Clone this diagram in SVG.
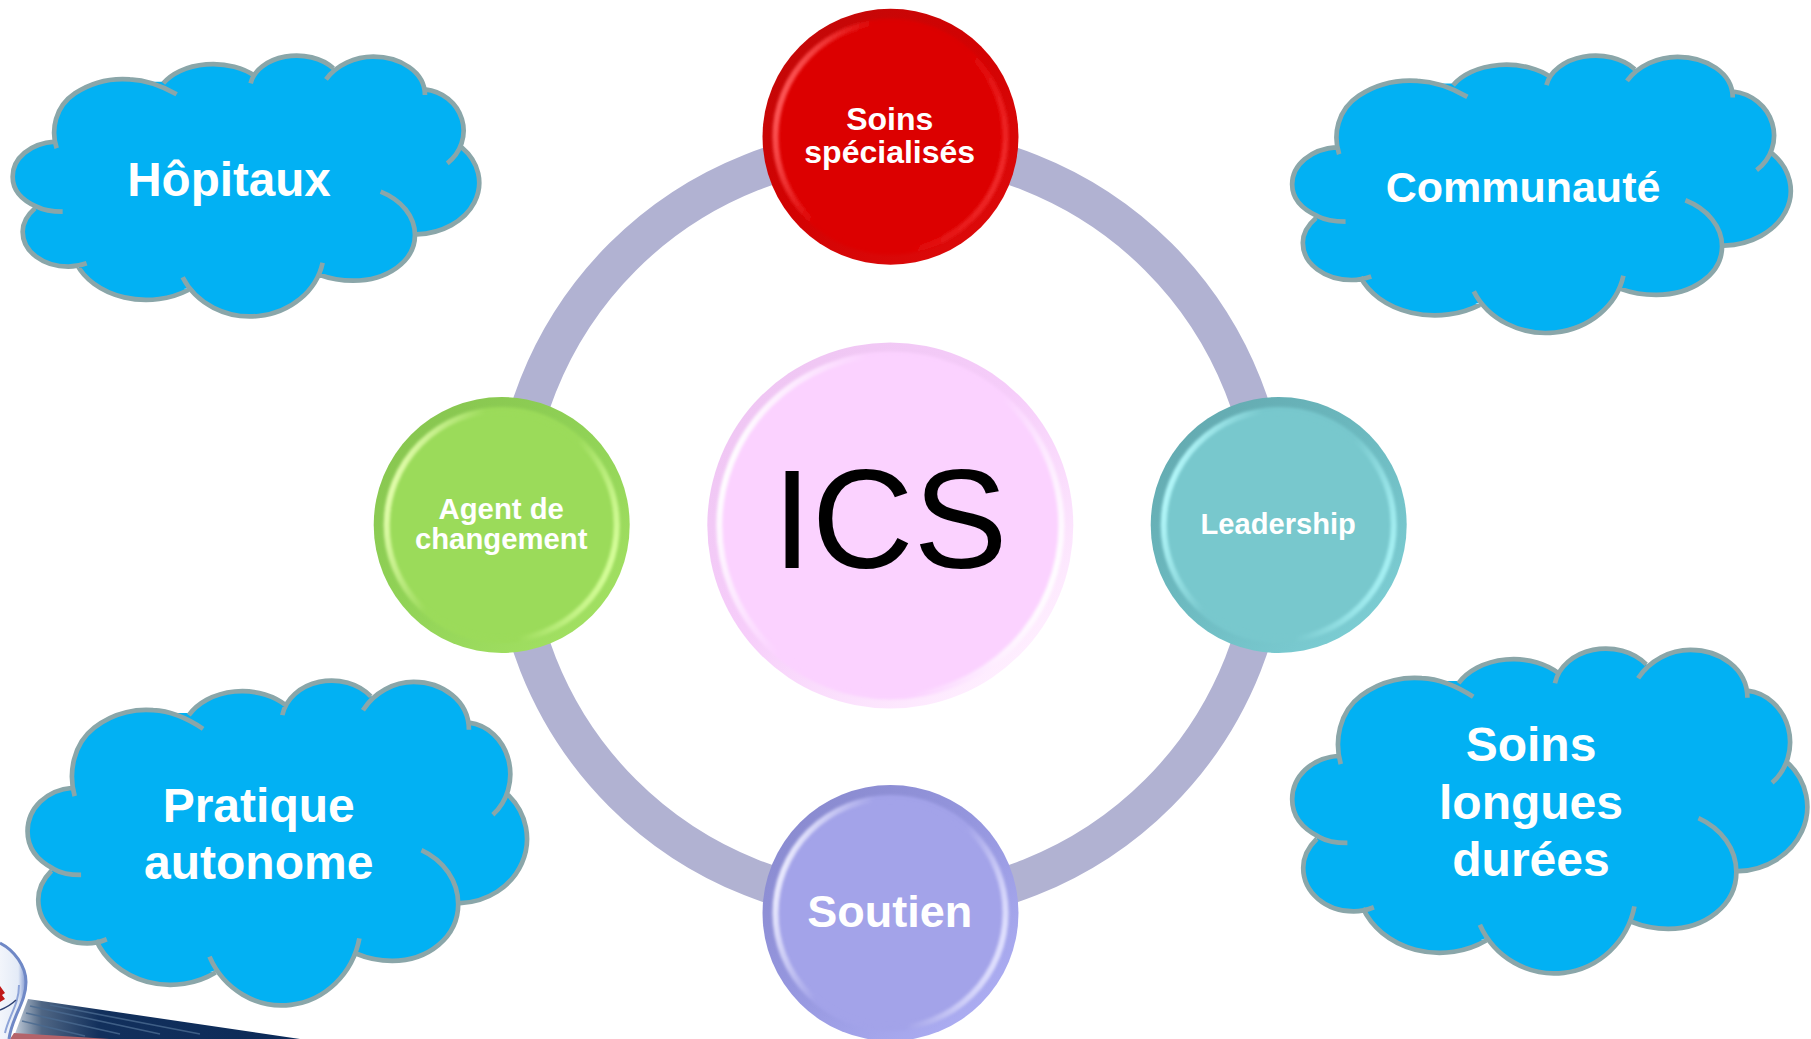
<svg xmlns="http://www.w3.org/2000/svg" width="1811" height="1039" viewBox="0 0 1811 1039">
<style>
text{font-family:"Liberation Sans",Arial,sans-serif;text-anchor:middle;fill:#fff;font-weight:700}
.cf{fill:#02b1f3;stroke:none}
.cl{fill:none;stroke:#8aa6a9;stroke-width:4.7;vector-effect:non-scaling-stroke}
.ring{fill:none;stroke:#b1b2d2;stroke-width:38}
.hl{fill:none;stroke-width:6;filter:url(#soft)}
</style>
<defs>
<filter id="soft" x="-10%" y="-10%" width="120%" height="120%"><feGaussianBlur stdDeviation="1.8"/></filter>
<linearGradient id="rR" x1="0.15" y1="0.1" x2="0.85" y2="0.9"><stop offset="0" stop-color="#c40808"/><stop offset="0.45" stop-color="#d20202"/><stop offset="1" stop-color="#dc0a0a"/></linearGradient>
<linearGradient id="hR" x1="0" y1="0.35" x2="1" y2="0.65"><stop offset="0" stop-color="#ff5a5a"/><stop offset="0.3" stop-color="#dc0000"/><stop offset="0.7" stop-color="#dc0000"/><stop offset="1" stop-color="#f02a2a"/></linearGradient>
<linearGradient id="rG" x1="0.15" y1="0.1" x2="0.85" y2="0.9"><stop offset="0" stop-color="#88c650"/><stop offset="0.45" stop-color="#90d256"/><stop offset="1" stop-color="#a2e062"/></linearGradient>
<linearGradient id="hG" x1="0" y1="0.35" x2="1" y2="0.65"><stop offset="0" stop-color="#e6ffb0"/><stop offset="0.3" stop-color="#9bdb5a"/><stop offset="0.7" stop-color="#9bdb5a"/><stop offset="1" stop-color="#d8ff9c"/></linearGradient>
<linearGradient id="rT" x1="0.15" y1="0.1" x2="0.85" y2="0.9"><stop offset="0" stop-color="#64abb1"/><stop offset="0.45" stop-color="#6cb9bf"/><stop offset="1" stop-color="#7ccdd3"/></linearGradient>
<linearGradient id="hT" x1="0" y1="0.35" x2="1" y2="0.65"><stop offset="0" stop-color="#b6fafc"/><stop offset="0.3" stop-color="#78c8cd"/><stop offset="0.7" stop-color="#78c8cd"/><stop offset="1" stop-color="#a8f2f5"/></linearGradient>
<linearGradient id="rP" x1="0.15" y1="0.1" x2="0.85" y2="0.9"><stop offset="0" stop-color="#8a8bd0"/><stop offset="0.45" stop-color="#9596de"/><stop offset="1" stop-color="#acadf2"/></linearGradient>
<linearGradient id="hP" x1="0" y1="0.35" x2="1" y2="0.65"><stop offset="0" stop-color="#eeeeff"/><stop offset="0.3" stop-color="#a3a3e9"/><stop offset="0.7" stop-color="#a3a3e9"/><stop offset="1" stop-color="#e4e4ff"/></linearGradient>
<linearGradient id="rK" x1="0.15" y1="0.1" x2="0.85" y2="0.9"><stop offset="0" stop-color="#efc6f3"/><stop offset="0.45" stop-color="#f6cdfa"/><stop offset="1" stop-color="#fff0ff"/></linearGradient>
<linearGradient id="hK" x1="0" y1="0.35" x2="1" y2="0.65"><stop offset="0" stop-color="#ffffff"/><stop offset="0.3" stop-color="#fbd2ff"/><stop offset="0.7" stop-color="#fbd2ff"/><stop offset="1" stop-color="#ffffff"/></linearGradient>
<linearGradient id="band" x1="0" y1="0" x2="1" y2="0"><stop offset="0" stop-color="#c8d2de"/><stop offset="0.1" stop-color="#4f6684"/><stop offset="0.3" stop-color="#12305c"/><stop offset="1" stop-color="#0c2a58"/></linearGradient>
<linearGradient id="bulb" x1="0" y1="0" x2="1" y2="0"><stop offset="0" stop-color="#f2f5fb"/><stop offset="0.7" stop-color="#e4ebf7"/><stop offset="1" stop-color="#7d95cf"/></linearGradient>
<g id="cloud">
<path class="cf" d="M170 325C152 270 165 200 225 160C285 120 350 115 390 118C440 120 490 140 530 163ZM490 130A170 110 0 0 1 765 108ZM752 130A140 100 0 0 1 1000 85ZM978 118C1010 75 1065 50 1120 50C1200 50 1275 95 1275 165ZM1275 148A130 125 0 0 1 1342 370ZM1385 322A195 155 0 0 1 1250 583ZM1142 455C1205 480 1245 530 1245 585C1245 665 1160 722 1060 722C1025 722 990 716 960 705ZM968 668A222 200 0 0 1 548 712ZM565 750A224 170 0 0 1 230 672ZM260 670C240 677 225 680 205 680C130 680 68 635 68 575C68 550 82 525 105 505ZM188 515C150 515 125 508 110 500C65 480 38 450 38 410C38 355 90 310 165 305ZM170 320L225 165L400 125L500 125L640 90L770 100L890 60L1000 85L1120 60L1275 150L1385 322L1250 583L1060 715L960 700L750 810L565 745L435 765L230 668L205 672L105 505L60 410Z"/>
<path class="cl" d="M170 325C152 270 165 200 225 160C285 120 350 115 390 118C440 120 490 140 530 163M490 130A170 110 0 0 1 765 108M752 130A140 100 0 0 1 1000 85M978 118C1010 75 1065 50 1120 50C1200 50 1275 95 1275 165M1275 148A130 125 0 0 1 1342 370M1385 322A195 155 0 0 1 1250 583M1142 455C1205 480 1245 530 1245 585C1245 665 1160 722 1060 722C1025 722 990 716 960 705M968 668A222 200 0 0 1 548 712M565 750A224 170 0 0 1 230 672M260 670C240 677 225 680 205 680C130 680 68 635 68 575C68 550 82 525 105 505M188 515C150 515 125 508 110 500C65 480 38 450 38 410C38 355 90 310 165 305"/>
</g>
</defs>
<rect width="1811" height="1039" fill="#fff"/>
<g id="decor">
<path d="M13 1039L28 999L300 1039Z" fill="url(#band)"/>
<g fill="none" stroke="#4a6a90" stroke-width="1.6" opacity="0.8"><path d="M30 1006L160 1034"/><path d="M26 1013L120 1034"/><path d="M22 1021L85 1036"/><path d="M50 1005L200 1034"/></g>
<path d="M10 1039L14 1033L110 1039Z" fill="#b4636a"/>
<path d="M0 943C14 950 26 966 26 982C26 1003 12 1016 9 1039L0 1039Z" fill="url(#bulb)"/>
<path d="M0 943C14 950 26 966 26 982C26 1003 12 1016 9 1039" fill="none" stroke="#6f88c6" stroke-width="3"/>
<path d="M19 985C19 1005 9 1015 5 1033" fill="none" stroke="#8ea4d8" stroke-width="2"/>
<path d="M0 986L5 993L2 995L5 999L0 1002Z" fill="#c01818"/>
<path d="M0 1010Q10 1006 16 1000" fill="none" stroke="#2c3f72" stroke-width="1.4"/>
</g>
<g id="connectors">
<path class="ring" d="M890.5 146A379 379 0 0 1 1269.5 525"/>
<path class="ring" d="M1269.5 525A379 379 0 0 1 890.5 904"/>
<path class="ring" d="M890.5 904A379 379 0 0 1 511.5 525"/>
<path class="ring" d="M511.5 525A379 379 0 0 1 890.5 146"/>
</g>
<g id="cloud-hopitaux"><use href="#cloud" transform="translate(0 40) scale(.3333 .3333)"/><text x="229" y="195.7" font-size="47.6">Hôpitaux</text></g>
<g id="cloud-communaute"><use href="#cloud" transform="translate(1278.6 39.1) scale(.3562 .3543)"/><text x="1523" y="201.7" font-size="43">Communauté</text></g>
<g id="cloud-soins-longues"><use href="#cloud" transform="translate(1278.2 629.2) scale(.368 .415)"/><text x="1531" y="760.7" font-size="48">Soins</text><text x="1531" y="819" font-size="48">longues</text><text x="1531" y="875.7" font-size="48">durées</text></g>
<g id="cloud-pratique"><use href="#cloud" transform="translate(14 661.2) scale(.3568 .415)"/><text x="258.7" y="821.7" font-size="48">Pratique</text><text x="258.7" y="879" font-size="48">autonome</text></g>
<g id="node-soins"><circle cx="890.5" cy="136.7" r="128" fill="url(#rR)"/><circle cx="890.5" cy="136.7" r="114" fill="#dc0000"/><circle class="hl" cx="890.5" cy="136.7" r="115" stroke="url(#hR)"/><text x="889.7" y="130" font-size="32">Soins</text><text x="889.7" y="162.7" font-size="32">spécialisés</text></g>
<g id="node-agent"><circle cx="501.7" cy="525" r="128" fill="url(#rG)"/><circle cx="501.7" cy="525" r="114" fill="#9bdb5a"/><circle class="hl" cx="501.7" cy="525" r="115" stroke="url(#hG)"/><text x="501.2" y="519" font-size="29.3">Agent de</text><text x="501.2" y="549" font-size="29.3">changement</text></g>
<g id="node-leadership"><circle cx="1278.7" cy="525" r="128" fill="url(#rT)"/><circle cx="1278.7" cy="525" r="114" fill="#78c8cd"/><circle class="hl" cx="1278.7" cy="525" r="115" stroke="url(#hT)"/><text x="1278.2" y="534" font-size="29.1">Leadership</text></g>
<g id="node-soutien"><circle cx="890.5" cy="913" r="128" fill="url(#rP)"/><circle cx="890.5" cy="913" r="114" fill="#a3a3e9"/><circle class="hl" cx="890.5" cy="913" r="115" stroke="url(#hP)"/><text x="889.7" y="926.7" font-size="45">Soutien</text></g>
<g id="node-ics"><circle cx="890.3" cy="525.5" r="183" fill="url(#rK)"/><circle cx="890.3" cy="525.5" r="170" fill="#fbd2ff"/><circle class="hl" cx="890.3" cy="525.5" r="171" stroke="url(#hK)"/><text x="890" y="567.5" font-size="141" style="font-weight:400;fill:#000">ICS</text></g>
</svg>
